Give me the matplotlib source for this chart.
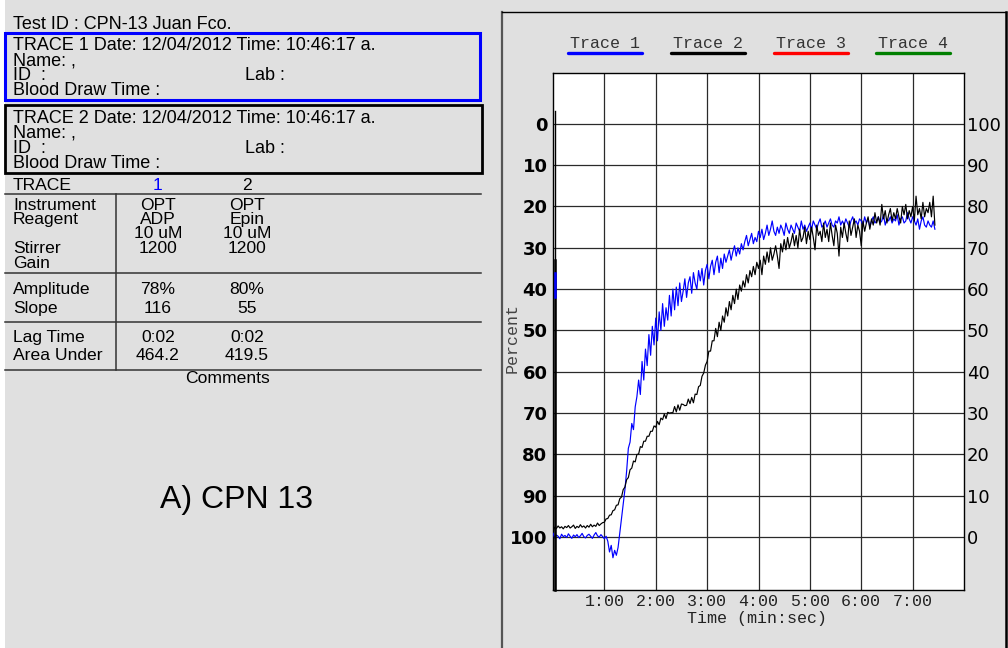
import numpy as np
import matplotlib
matplotlib.use("Agg")
import matplotlib.pyplot as plt
from matplotlib.patches import Rectangle

# aggregometer traces, percent (left scale: 0 top .. 100 bottom), one sample every 2 s
sample_sec = 2.0
trace1 = [
    99.0, 100.2, 99.5, 99.8, 100.4, 99.3, 99.9, 99.6, 100.1, 99.2,
    99.8, 100.3, 99.5, 99.9, 99.4, 100.1, 99.7, 99.1, 99.9, 100.2,
    99.6, 99.3, 99.8, 100.3, 99.5, 98.9, 99.7, 100.0, 99.4, 99.9,
    100.4, 99.8, 101.0, 103.6, 102.0, 105.0, 103.2, 104.4, 102.5, 99.0,
    95.5, 92.0, 88.5, 84.0, 78.5, 77.0, 72.5, 74.0, 68.5, 66.0,
    62.0, 65.5, 57.5, 62.0, 54.5, 58.5, 51.0, 56.0, 49.0, 53.5,
    47.0, 52.5, 45.5, 50.0, 43.5, 49.0, 44.5, 47.5, 41.5, 46.5,
    40.0, 45.0, 39.5, 44.0, 38.5, 43.0, 40.5, 37.5, 42.0, 38.5,
    37.0, 41.0, 36.0, 38.5, 40.0, 35.5, 38.0, 35.0, 39.0, 35.5,
    34.0, 37.5, 34.5, 33.0, 36.5, 33.5, 32.0, 36.0, 32.5, 35.0,
    31.5, 33.5, 32.0, 30.5, 33.0, 31.0, 29.5, 32.0, 30.0, 31.5,
    29.0, 30.5, 28.5, 27.0, 29.5, 28.0, 26.5, 29.0, 27.5, 28.5,
    26.0, 27.5, 25.5, 28.0, 26.5, 24.5, 27.0, 25.5, 23.5, 26.0,
    27.0, 25.0, 26.5, 24.5, 25.5, 27.0, 24.0, 25.5, 26.5, 24.5,
    25.5, 26.5, 24.0, 25.0, 26.0, 23.5, 25.5, 24.5, 26.0, 25.0,
    24.0, 25.5, 23.5, 24.5, 25.5, 24.0, 23.0, 25.0, 24.5, 23.5,
    25.0, 24.0, 23.0, 24.5, 25.0, 23.5, 24.0, 22.5, 24.5, 23.5,
    24.5, 23.0, 24.0, 25.0, 23.5, 22.5, 24.0, 23.5, 24.5, 23.0,
    23.5, 24.5, 22.5, 24.0, 23.0, 25.0, 23.5, 22.5, 24.0, 23.5,
    22.5, 24.0, 23.5, 22.0, 24.5, 23.0, 23.5, 22.5, 24.0, 23.0,
    23.5, 22.0, 24.5, 23.0, 22.5, 24.0, 23.5, 21.5, 23.0, 24.0,
    22.5, 23.5, 24.5, 23.0, 25.5, 23.5, 22.5, 24.5, 25.0, 23.5,
    24.5, 25.0, 23.5, 25.5,
]
trace2 = [
    98.8, 97.6, 97.9, 97.3, 97.8, 97.5, 98.0, 97.4, 97.7, 97.2,
    97.8, 97.5, 97.1, 97.9, 97.4, 97.7, 97.0, 97.6, 97.3, 97.8,
    97.2, 97.6, 96.9, 97.5, 97.1, 97.4, 96.6, 97.2, 96.8, 96.5,
    96.4, 95.6, 95.5, 94.7, 94.6, 93.6, 93.4, 92.3, 92.2, 90.7,
    90.3, 88.5, 87.9, 86.1, 85.6, 83.7, 83.3, 81.6, 81.8, 80.0,
    79.9, 78.1, 78.3, 76.8, 76.8, 75.6, 75.6, 74.4, 74.4, 73.1,
    73.4, 72.0, 72.8, 71.2, 71.6, 70.2, 71.3, 69.8, 70.0, 69.9,
    69.9, 68.4, 69.7, 68.0, 69.3, 67.8, 67.9, 68.2, 68.1, 66.6,
    67.7, 66.2, 67.5, 65.4, 65.5, 63.6, 63.3, 61.1, 60.3, 58.4,
    57.5, 55.0, 55.0, 52.5, 52.5, 49.5, 51.5, 48.0, 50.0, 46.5,
    48.0, 44.5, 46.5, 43.0, 45.0, 41.5, 43.5, 40.0, 42.5, 39.0,
    40.5, 38.0, 39.5, 36.5, 38.5, 35.5, 37.0, 34.5, 36.5, 33.5,
    35.0, 33.0, 36.5, 32.0, 34.0, 31.0, 33.5, 30.0, 33.0, 31.5,
    29.5, 32.0, 35.0, 29.0, 31.0, 28.0, 30.5, 27.5, 30.0, 28.5,
    26.5, 29.5, 27.0, 30.0, 25.5, 28.5, 27.5, 25.0, 29.0, 26.0,
    28.0, 25.0, 27.5, 30.5, 24.5, 27.0, 26.0, 28.5, 24.0, 27.5,
    25.5, 28.5, 24.0, 27.0, 29.5, 24.5, 26.5, 32.0, 25.0, 27.5,
    24.0, 26.5, 28.5, 23.5, 27.0, 25.0, 23.0, 27.5, 24.5, 26.0,
    29.5, 23.5, 26.0, 24.0, 22.5, 25.5, 23.0, 24.5, 21.5, 24.0,
    22.5, 24.5, 19.5, 23.0, 21.0, 24.0, 22.0, 20.5, 23.5, 21.5,
    23.0, 20.5, 22.5, 24.0, 20.0, 22.0, 19.5, 23.0, 21.0, 22.5,
    20.0, 23.5, 17.5, 22.0, 20.5, 23.0, 19.0, 22.5, 20.5, 21.5,
    19.0, 22.5, 17.5, 24.5,
]

minute_ticks = [1, 2, 3, 4, 5, 6, 7]
minute_labels = ["1:00", "2:00", "3:00", "4:00", "5:00", "6:00", "7:00"]
pct_ticks = [0, 10, 20, 30, 40, 50, 60, 70, 80, 90, 100]
legend_names = ["Trace 1", "Trace 2", "Trace 3", "Trace 4"]
legend_colors = ["#0000ff", "#000000", "#ff0000", "#008000"]

test_id = "Test ID : CPN-13 Juan Fco."
trace_headers = ["TRACE 1 Date: 12/04/2012 Time: 10:46:17 a.",
                 "TRACE 2 Date: 12/04/2012 Time: 10:46:17 a."]
row_names = ["Instrument", "Reagent", "", "Stirrer", "Gain"]
col1 = ["OPT", "ADP", "10 uM", "1200", ""]
col2 = ["OPT", "Epin", "10 uM", "1200", ""]
res_names = ["Amplitude", "Slope", "Lag Time", "Area Under"]
res1 = ["78%", "116", "0:02", "464.2"]
res2 = ["80%", "55", "0:02", "419.5"]
panel_label = "A) CPN 13"

GRAY = "#e0e0e0"
SANS = "Liberation Sans"
MONO = "Liberation Mono"

fig = plt.figure(figsize=(10.08, 6.48), dpi=100, facecolor="white")

# pixel-space background layer
bg = fig.add_axes([0, 0, 1, 1])
bg.set_xlim(0, 1008); bg.set_ylim(648, 0); bg.axis("off")
bg.add_patch(Rectangle((5, 0), 1003, 648, fc=GRAY, ec="none"))

# ---- left info panel ----
fs = 13
bg.text(13, 29, test_id, family=SANS, size=fs, va="baseline")
bg.add_patch(Rectangle((5, 33), 475, 67, fill=False, ec="#0000ff", lw=2.2))
bg.add_patch(Rectangle((5, 105), 477, 68, fill=False, ec="black", lw=2))
for hdr, y0 in zip(trace_headers, [50, 123]):
    bg.text(13, y0, hdr, family=SANS, size=fs, va="baseline")
    bg.text(13, y0 + 15, "Name: ,", family=SANS, size=fs, va="baseline")
    bg.text(13, y0 + 30, "ID  :", family=SANS, size=fs, va="baseline")
    bg.text(245, y0 + 30, "Lab :", family=SANS, size=fs, va="baseline")
    bg.text(13, y0 + 45, "Blood Draw Time :", family=SANS, size=fs, va="baseline")

ts = 12.6
c1x, c2x = 158, 247
bg.text(13, 190, "TRACE", family=SANS, size=ts, va="baseline")
bg.text(c1x, 190, "1", family=SANS, size=ts, va="baseline", ha="center", color="#0000ff")
bg.text(c2x, 190, "2", family=SANS, size=ts, va="baseline", ha="center")
for yl in [194, 273, 322, 370]:
    bg.plot([5, 481], [yl, yl], color="#333333", lw=1.1)
bg.plot([116, 116], [194, 370], color="#333333", lw=1.1)
for name, a, b, y0 in zip(row_names, col1, col2, [210, 224, 238, 253, 268]):
    bg.text(13, y0, name, family=SANS, size=ts, va="baseline")
    bg.text(c1x, y0, a, family=SANS, size=ts, va="baseline", ha="center")
    bg.text(c2x, y0, b, family=SANS, size=ts, va="baseline", ha="center")
for name, a, b, y0 in zip(res_names, res1, res2, [294, 313, 342, 360]):
    bg.text(13, y0, name, family=SANS, size=ts, va="baseline")
    bg.text(c1x, y0, a, family=SANS, size=ts, va="baseline", ha="center")
    bg.text(c2x, y0, b, family=SANS, size=ts, va="baseline", ha="center")
bg.text(227, 383, "Comments", family=SANS, size=ts, va="baseline", ha="center")
bg.text(236, 508, panel_label, family=SANS, size=23, va="baseline", ha="center")

# ---- right chart panel frame ----
bg.plot([502, 502], [12, 648], color="#555555", lw=1.6)
bg.plot([502, 1006], [12, 12], color="black", lw=1)
bg.plot([1006, 1006], [12, 648], color="black", lw=1.8)

# legend (underlined names)
for i, (nm, col) in enumerate(zip(legend_names, legend_colors)):
    cx = 605 + i * 102.8
    bg.text(cx, 44, nm, family=MONO, size=12, ha="center", va="center", color="#333333")
    bg.plot([cx - 37, cx + 37], [53, 53], color=col, lw=2.4, solid_capstyle="round")

bg.text(512, 338, "Percent", family=MONO, size=12, rotation=90, ha="center", va="center", color="#444444")
bg.text(757, 618, "Time (min:sec)", family=MONO, size=12, ha="center", va="center", color="#222222")

# ---- chart ----
ax = fig.add_axes([553 / 1008, 1 - 590 / 648, 411 / 1008, 517 / 648])
ax.set_facecolor("white")
ax.set_xlim(0, 8)
ax.set_ylim(112.8, -12.3)
for v in pct_ticks:
    ax.axhline(v, color="#2a2a2a", lw=0.9, zorder=1)
for m in minute_ticks:
    ax.axvline(m, color="#2a2a2a", lw=0.9, zorder=1)
for s in ax.spines.values():
    s.set_color("black"); s.set_linewidth(1)

t1 = np.arange(len(trace1)) * sample_sec / 60
t2 = np.arange(len(trace2)) * sample_sec / 60
ax.plot(t1, trace1, color="#0000ff", lw=0.85, zorder=3)
ax.plot(t2, trace2, color="black", lw=0.85, zorder=4)

# baseline marker on the left axis
ax.plot([0.04, 0.04], [-3, 112.8], color="black", lw=1, zorder=5, clip_on=False)
ax.plot([0.04, 0.04], [33, 112.8], color="black", lw=1.8, zorder=5, clip_on=False)
ax.plot([0.04, 0.04], [36, 42], color="#0000ff", lw=1.8, zorder=6, clip_on=False)

ax.set_xticks(minute_ticks)
ax.set_xticklabels(minute_labels, family=MONO, size=12, color="#222222")
ax.set_yticks(pct_ticks)
ax.set_yticklabels([str(v) for v in pct_ticks], family="DejaVu Sans", size=13, weight="bold")
ax.tick_params(length=0, pad=4)
ax.tick_params(axis="x", pad=3)

ax2 = ax.twinx()
ax2.set_ylim(ax.get_ylim())
ax2.set_yticks(pct_ticks)
ax2.set_yticklabels([str(100 - v) for v in pct_ticks], family="DejaVu Sans", size=13)
ax2.tick_params(length=0, pad=2)
for s in ax2.spines.values():
    s.set_visible(False)

fig.savefig("out.png", dpi=100, facecolor=fig.get_facecolor())
